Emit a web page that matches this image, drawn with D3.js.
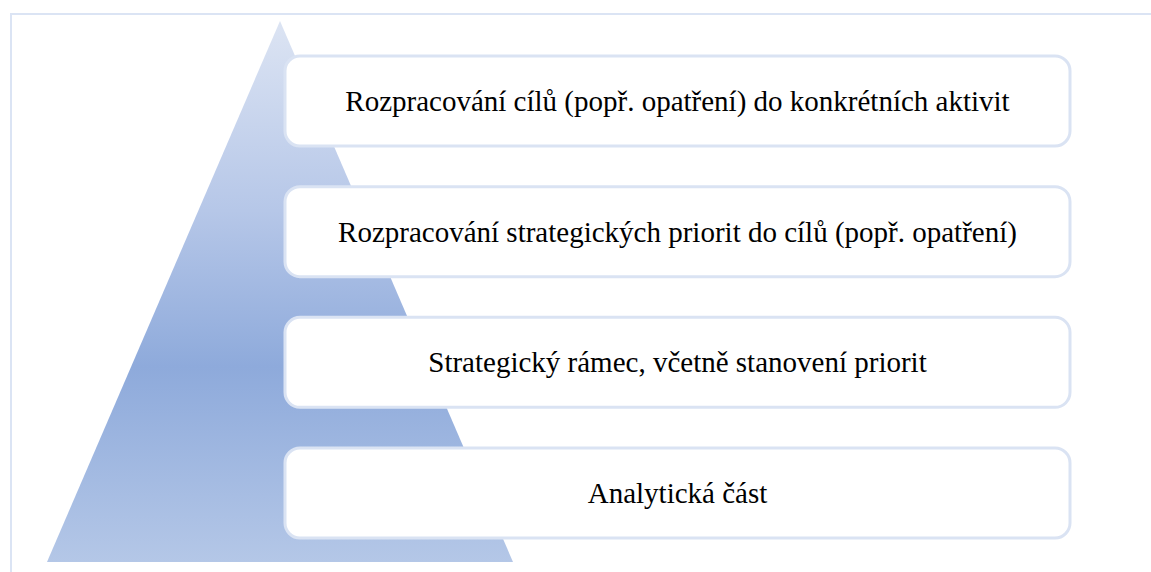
<!DOCTYPE html>
<html><head><meta charset="utf-8">
<script src="https://cdn.jsdelivr.net/npm/d3@7"></script>
<style>html,body{margin:0;padding:0;background:#fff;overflow:hidden}</style>
</head><body>
<svg id="c" width="1151" height="572"></svg>
<script>
const levels = [
  "Rozpracování cílů (popř. opatření) do konkrétních aktivit",
  "Rozpracování strategických priorit do cílů (popř. opatření)",
  "Strategický rámec, včetně stanovení priorit",
  "Analytická část"
];
const pyramidShape = [[0, 0], [-1, 1], [1, 1]]; // apex, base left, base right (relative units)

const svg = d3.select("#c");
const W = 1151, H = 572;

// frame
svg.append("rect").attr("x", 11).attr("y", 14).attr("width", W + 20).attr("height", H + 20)
  .attr("fill", "none").attr("stroke", "#dbe4f4").attr("stroke-width", 2);

// gradient
const defs = svg.append("defs");
const g = defs.append("linearGradient").attr("id", "pg").attr("x1", 0).attr("y1", 0).attr("x2", 0).attr("y2", 1);
[[0, "#dce4f3"], [0.35, "#b6c7e8"], [0.64, "#8eaadb"], [1, "#b4c7e7"]].forEach(([o, c]) =>
  g.append("stop").attr("offset", o).attr("stop-color", c));

// pyramid
const px = d3.scaleLinear().domain([-1, 1]).range([47, 513]);
const py = d3.scaleLinear().domain([0, 1]).range([21, 562]);
svg.append("path")
  .attr("d", d3.line().x(d => px(d[0])).y(d => py(d[1])).curve(d3.curveLinearClosed)(pyramidShape))
  .attr("fill", "url(#pg)");

// boxes
const y = d3.scaleBand().domain(levels).range([56, 538]).paddingInner(0.311).paddingOuter(0);
const x0 = 285, x1 = 1070;
const grp = svg.selectAll("g.box").data(levels).join("g").attr("class", "box");
grp.append("rect")
  .attr("x", x0).attr("y", d => y(d)).attr("width", x1 - x0).attr("height", y.bandwidth())
  .attr("rx", 15).attr("ry", 15)
  .attr("fill", "#fff").attr("stroke", "#dae3f3").attr("stroke-width", 3);
grp.append("text")
  .attr("x", (x0 + x1) / 2).attr("y", d => y(d) + y.bandwidth() / 2 + 10)
  .attr("text-anchor", "middle")
  .attr("font-family", "'Times New Roman','Liberation Serif',serif")
  .attr("font-size", 29).attr("fill", "#000")
  .text(d => d);
</script>
</body></html>
